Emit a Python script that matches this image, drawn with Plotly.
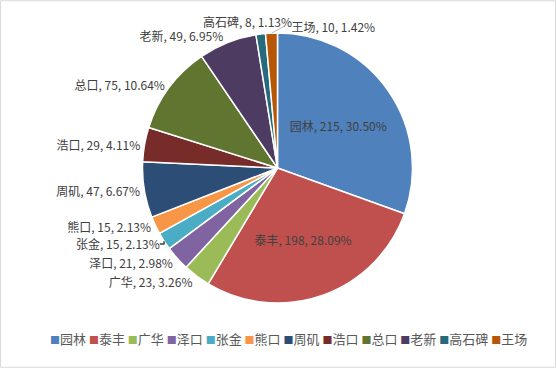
import math
import plotly.graph_objects as go

labels = ["园林", "泰丰", "广华", "泽口", "张金", "熊口", "周矶", "浩口", "总口", "老新", "高石碑", "王场"]
values = [215, 198, 23, 21, 15, 15, 47, 29, 75, 49, 8, 10]
colors = ["#4F81BD", "#C0504D", "#9BBB59", "#8064A2", "#4BACC6", "#F79646",
          "#2C4D75", "#772C2A", "#5F7530", "#4D3B62", "#276A7C", "#B65708"]
positions = ["inside", "inside"] + ["outside"] * 8 + ["none", "none"]

W, H = 556, 368
FONT = "Noto Sans CJK SC, Noto Sans, sans-serif"
DOM_X = [0.2563, 0.7419]
DOM_Y = [0.1766, 0.9103]

fig = go.Figure()
fig.add_trace(go.Pie(
    labels=labels, values=values, sort=False, direction="clockwise", rotation=0,
    marker=dict(colors=colors, line=dict(color="white", width=1.5)),
    texttemplate="%{label}, %{value}, %{percent:.2%}",
    textposition=positions,
    insidetextorientation="horizontal",
    textfont=dict(family=FONT, size=12, color="#404040"),
    insidetextfont=dict(family=FONT, size=12, color="#404040"),
    outsidetextfont=dict(family=FONT, size=12, color="#404040"),
    domain=dict(x=DOM_X, y=DOM_Y),
    showlegend=False, hoverinfo="label+value+percent",
))

# labels of the two tiny top slices, placed from their slice angles
total = sum(values)
cx = W * (DOM_X[0] + DOM_X[1]) / 2
cy = H * (1 - (DOM_Y[0] + DOM_Y[1]) / 2)
r = min(W * (DOM_X[1] - DOM_X[0]), H * (DOM_Y[1] - DOM_Y[0])) / 2
cum = 0
mids = []
for v in values:
    mids.append((cum + v / 2) / total * 2 * math.pi)
    cum += v

def lab(i):
    return f"{labels[i]}, {values[i]}, {values[i] / total * 100:.2f}%"

# 高石碑 (left of the top)
a = mids[10]
px, py = cx + r * math.sin(a), cy - r * math.cos(a)
fig.add_annotation(x=(px + 33) / W, y=1 - (py - 13) / H, xref="paper", yref="paper",
                   text=lab(10), showarrow=False, xanchor="right", yanchor="middle",
                   font=dict(family=FONT, size=12, color="#404040"))
# 王场 (right of the top, with leader line)
a = mids[11]
px, py = cx + r * math.sin(a), cy - r * math.cos(a)
fig.add_annotation(x=px / W, y=1 - py / H, xref="paper", yref="paper",
                   ax=13, ay=-7, axref="pixel", ayref="pixel",
                   text="&nbsp;&nbsp;" + lab(11), showarrow=True, arrowhead=0, arrowwidth=0.8,
                   arrowcolor="#A6A6A6", xanchor="left", yanchor="middle",
                   font=dict(family=FONT, size=12, color="#404040"))

legend_html = "&nbsp;".join(
    f"<span style='color:{c};font-size:10px'>■</span>{l}" for l, c in zip(labels, colors)
)
fig.add_annotation(x=0.518, y=1 - 338 / H, xref="paper", yref="paper",
                   text=legend_html, showarrow=False, xanchor="center", yanchor="middle",
                   font=dict(family=FONT, size=13, color="#595959"))

fig.add_shape(type="rect", xref="paper", yref="paper", x0=0.001, x1=0.999, y0=0.002, y1=0.998,
              line=dict(color="#D9D9D9", width=1))

fig.update_layout(width=W, height=H, margin=dict(l=0, r=0, t=0, b=0),
                  paper_bgcolor="white", plot_bgcolor="white",
                  font=dict(family=FONT, color="#404040"))
fig.write_html("out.html")
